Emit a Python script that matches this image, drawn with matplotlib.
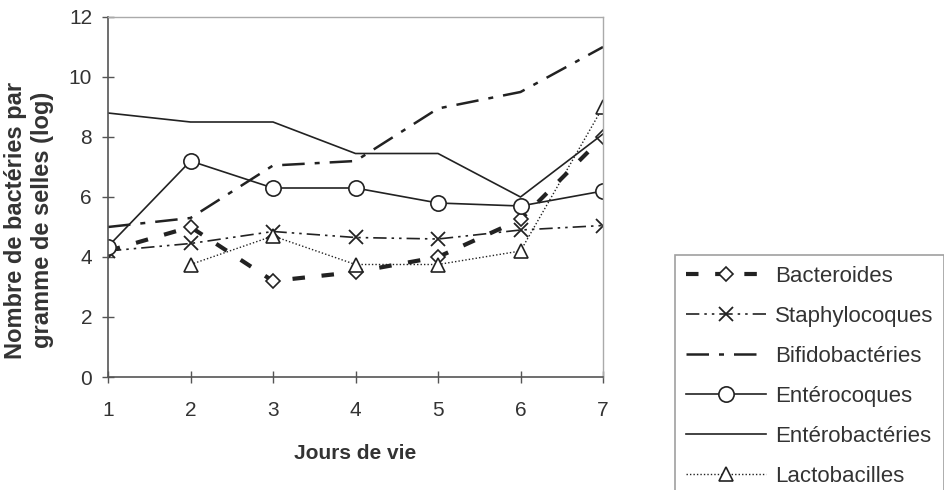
import matplotlib.pyplot as plt
import numpy as np

plt.rcParams['font.family'] = ['Liberation Sans', 'DejaVu Sans']
TextColor = '#333333'
FontSize = 15

jours = [1, 2, 3, 4, 5, 6, 7]
bacteroides = [4.2, 5.0, 3.2, 3.5, 4.0, 5.25, 8.0]
staphylocoques = [4.2, 4.45, 4.85, 4.65, 4.6, 4.9, 5.05]
bifidobacteries = [5.0, 5.3, 7.05, 7.2, 8.95, 9.5, 11.0]
enterocoques = [4.35, 7.2, 6.3, 6.3, 5.8, 5.7, 6.2]
enterobacteries = [8.8, 8.5, 8.5, 7.45, 7.45, 6.0, 8.1]
lactobacilles = [np.nan, 3.75, 4.7, 3.75, 3.75, 4.2, 9.0]

fig = plt.figure(figsize=(9.45, 4.9), dpi=100)
ax = fig.add_axes([108 / 945, 1 - 377 / 490, (603 - 108) / 945, (377 - 17) / 490])

ax.plot(jours, bacteroides, color='#222222', linewidth=3, dashes=(3, 4), marker='D', markersize=7,
        markerfacecolor='white', markeredgecolor='#222222', markeredgewidth=1.2, label='Bacteroides')
ax.plot(jours, staphylocoques, color='#222222', linewidth=1.2, dashes=(8, 3, 1.5, 3, 1.5, 3), marker='x',
        markersize=10, markeredgewidth=1.3, label='Staphylocoques')
ax.plot(jours, bifidobacteries, color='#222222', linewidth=1.8, dashes=(9, 4, 2, 4), label='Bifidobactéries')
ax.plot(jours, enterocoques, color='#222222', linewidth=1.2, marker='o', markersize=11,
        markerfacecolor='white', markeredgecolor='#222222', markeredgewidth=1.2, label='Entérocoques')
ax.plot(jours, enterobacteries, color='#222222', linewidth=1.2, label='Entérobactéries')
ax.plot(jours, lactobacilles, color='#222222', linewidth=1.0, linestyle=(0, (1, 1.5)), marker='^', markersize=10,
        markerfacecolor='white', markeredgecolor='#222222', markeredgewidth=1.2, label='Lactobacilles')

ax.set_xlim(1, 7)
ax.set_ylim(0, 12)
ax.set_xticks(jours)
ax.set_yticks([0, 2, 4, 6, 8, 10, 12])
ax.tick_params(direction='inout', length=9, width=1, color='#555555', labelsize=FontSize,
               labelcolor=TextColor)
ax.tick_params(axis='x', pad=13)
ax.tick_params(axis='y', pad=7)
for s in ['left', 'bottom']:
    ax.spines[s].set_color('#555555')
    ax.spines[s].set_linewidth(1.2)
for s in ['top', 'right']:
    ax.spines[s].set_color('#aaaaaa')
    ax.spines[s].set_linewidth(1)

fig.text(29 / 945, 1 - 220 / 490, 'Nombre de bactéries par\ngramme de selles (log)', rotation=90,
         ha='center', va='center', multialignment='center', fontsize=17, fontweight='bold',
         color=TextColor, linespacing=1.2)
fig.text(355 / 945, 1 - 453 / 490, 'Jours de vie', ha='center', va='center', fontsize=FontSize,
         fontweight='bold', color=TextColor)

leg = fig.legend(loc='upper left', bbox_to_anchor=(675 / 945, 1 - 255 / 490), fontsize=16,
                 frameon=True, fancybox=False, edgecolor='#888888', handlelength=3.6,
                 labelspacing=0.85, borderpad=0.5, borderaxespad=0, handletextpad=0.4,
                 labelcolor=TextColor)
leg.get_frame().set_linewidth(1.2)

plt.savefig('out.png', dpi=100)
